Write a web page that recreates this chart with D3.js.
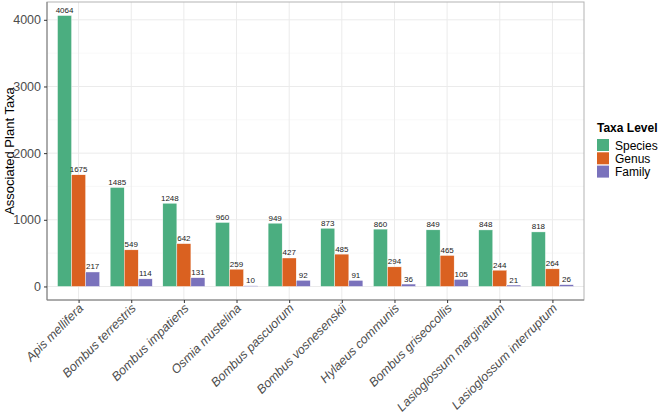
<!DOCTYPE html>
<html>
<head>
<meta charset="utf-8">
<script src="https://cdn.jsdelivr.net/npm/d3@7"></script>
<style>
  body { margin: 0; background: #fff; font-family: "Liberation Sans", Arial, sans-serif; }
  .grid line { stroke: #ebebeb; }
  .grid .minor { stroke: #f4f4f4; }
  .barlabel { font-size: 8px; fill: #222; }
  .tick text { fill: #4d4d4d; }
</style>
</head>
<body>
<div id="chart"></div>
<script>
var species = ["Apis mellifera", "Bombus terrestris", "Bombus impatiens", "Osmia mustelina",
  "Bombus pascuorum", "Bombus vosnesenskii", "Hylaeus communis", "Bombus griseocollis",
  "Lasioglossum marginatum", "Lasioglossum interruptum"];
var levels = ["Species", "Genus", "Family"];
var speciesCounts = [4064, 1485, 1248, 960, 949, 873, 860, 849, 848, 818];
var genusCounts = [1675, 549, 642, 259, 427, 485, 294, 465, 244, 264];
var familyCounts = [217, 114, 131, 10, 92, 91, 36, 105, 21, 26];
var yTicks = [0, 1000, 2000, 3000, 4000];
var yMinor = [500, 1500, 2500, 3500];
var colors = ["#4BAE80", "#DA6120", "#7A72BC"];

function init() {
  var w = 660, h = 414;
  var left = 47, right = 584, top = 2, bottom = 300;

  var svg = d3.select("#chart").append("svg")
    .attr("width", w).attr("height", h);

  var rows = [];
  species.forEach(function (s, i) {
    rows.push({ sp: s, level: "Species", value: speciesCounts[i] });
    rows.push({ sp: s, level: "Genus", value: genusCounts[i] });
    rows.push({ sp: s, level: "Family", value: familyCounts[i] });
  });

  // ggplot style: 0.6 step expansion at each end, bars take 0.8 of a step
  var step = (right - left) / (species.length + 0.2);
  var xScale = d3.scalePoint().domain(species)
    .range([left + 0.6 * step, right - 0.6 * step]);
  var sub = d3.scaleBand().domain(levels).range([-0.4 * step, 0.4 * step]);
  var color = d3.scaleOrdinal().domain(levels).range(colors);

  var yScale = d3.scaleLinear()
    .domain([-203.2, 4267.2])
    .range([bottom, top]);

  // grid
  var g = svg.append("g").attr("class", "grid");
  g.selectAll("line.minor").data(yMinor).enter().append("line")
    .attr("class", "minor")
    .attr("x1", left).attr("x2", right)
    .attr("y1", function (d) { return yScale(d); })
    .attr("y2", function (d) { return yScale(d); })
    .attr("stroke-width", 0.6);
  g.selectAll("line.ymaj").data(yTicks).enter().append("line")
    .attr("class", "ymaj")
    .attr("x1", left).attr("x2", right)
    .attr("y1", function (d) { return yScale(d); })
    .attr("y2", function (d) { return yScale(d); })
    .attr("stroke-width", 1);
  g.selectAll("line.xmaj").data(species).enter().append("line")
    .attr("class", "xmaj")
    .attr("y1", top).attr("y2", bottom)
    .attr("x1", function (d) { return xScale(d); })
    .attr("x2", function (d) { return xScale(d); })
    .attr("stroke-width", 1);

  // bars
  svg.selectAll("rect.bar").data(rows).enter().append("rect")
    .attr("class", "bar")
    .attr("x", function (d) { return xScale(d.sp) + sub(d.level); })
    .attr("width", sub.bandwidth())
    .attr("y", function (d) { return yScale(d.value); })
    .attr("height", function (d) { return yScale(0) - yScale(d.value); })
    .attr("fill", function (d) { return color(d.level); })
    .attr("stroke", "#fff").attr("stroke-width", 0.4);

  svg.selectAll("text.barlabel").data(rows).enter().append("text")
    .attr("class", "barlabel")
    .attr("text-anchor", "middle")
    .attr("x", function (d) { return xScale(d.sp) + sub(d.level) + sub.bandwidth() / 2; })
    .attr("y", function (d) { return yScale(d.value) - 2.5; })
    .text(function (d) { return d.value; });

  // panel border
  svg.append("rect")
    .attr("x", left).attr("y", top)
    .attr("width", right - left).attr("height", bottom - top)
    .attr("fill", "none").attr("stroke", "#b3b3b3").attr("stroke-width", 1);
  svg.append("line")
    .attr("x1", left).attr("x2", left).attr("y1", top).attr("y2", bottom)
    .attr("stroke", "#7f7f7f");
  svg.append("line")
    .attr("x1", left).attr("x2", right).attr("y1", bottom).attr("y2", bottom)
    .attr("stroke", "#7f7f7f");

  // axes
  var yAxis = d3.axisLeft(yScale).tickValues(yTicks).tickFormat(d3.format("d"))
    .tickSize(3).tickPadding(3);
  var ya = svg.append("g").attr("transform", "translate(" + left + ",0)").call(yAxis);
  ya.select(".domain").remove();
  ya.selectAll(".tick line").attr("stroke", "#333");
  ya.selectAll(".tick text").style("font-size", "12.5px").attr("font-family", "Liberation Sans, Arial, sans-serif");

  var xAxis = d3.axisBottom(xScale).tickSize(3).tickPadding(2);
  var xa = svg.append("g").attr("transform", "translate(0," + bottom + ")").call(xAxis);
  xa.select(".domain").remove();
  xa.selectAll(".tick line").attr("stroke", "#333");
  xa.selectAll(".tick text")
    .style("font-size", "12.5px").style("font-style", "italic")
    .attr("font-family", "Liberation Sans, Arial, sans-serif")
    .attr("text-anchor", "end")
    .attr("dy", null).attr("y", 0)
    .attr("transform", "translate(5,9) rotate(-45)");

  svg.append("text")
    .attr("transform", "translate(14," + ((top + bottom) / 2) + ") rotate(-90)")
    .attr("text-anchor", "middle")
    .style("font-size", "13px").attr("fill", "#000")
    .text("Associated Plant Taxa");

  // legend
  var lg = svg.append("g").attr("transform", "translate(597,0)");
  lg.append("text").attr("x", 0).attr("y", 132)
    .style("font-size", "12px").style("font-weight", "bold")
    .text("Taxa Level");
  levels.forEach(function (lv, i) {
    lg.append("rect").attr("x", 0).attr("y", 139 + i * 13.3)
      .attr("width", 12).attr("height", 12).attr("fill", color(lv));
    lg.append("text").attr("x", 18).attr("y", 149.5 + i * 13.3)
      .style("font-size", "12px").text(lv);
  });
}

window.onload = init;
</script>
</body>
</html>
